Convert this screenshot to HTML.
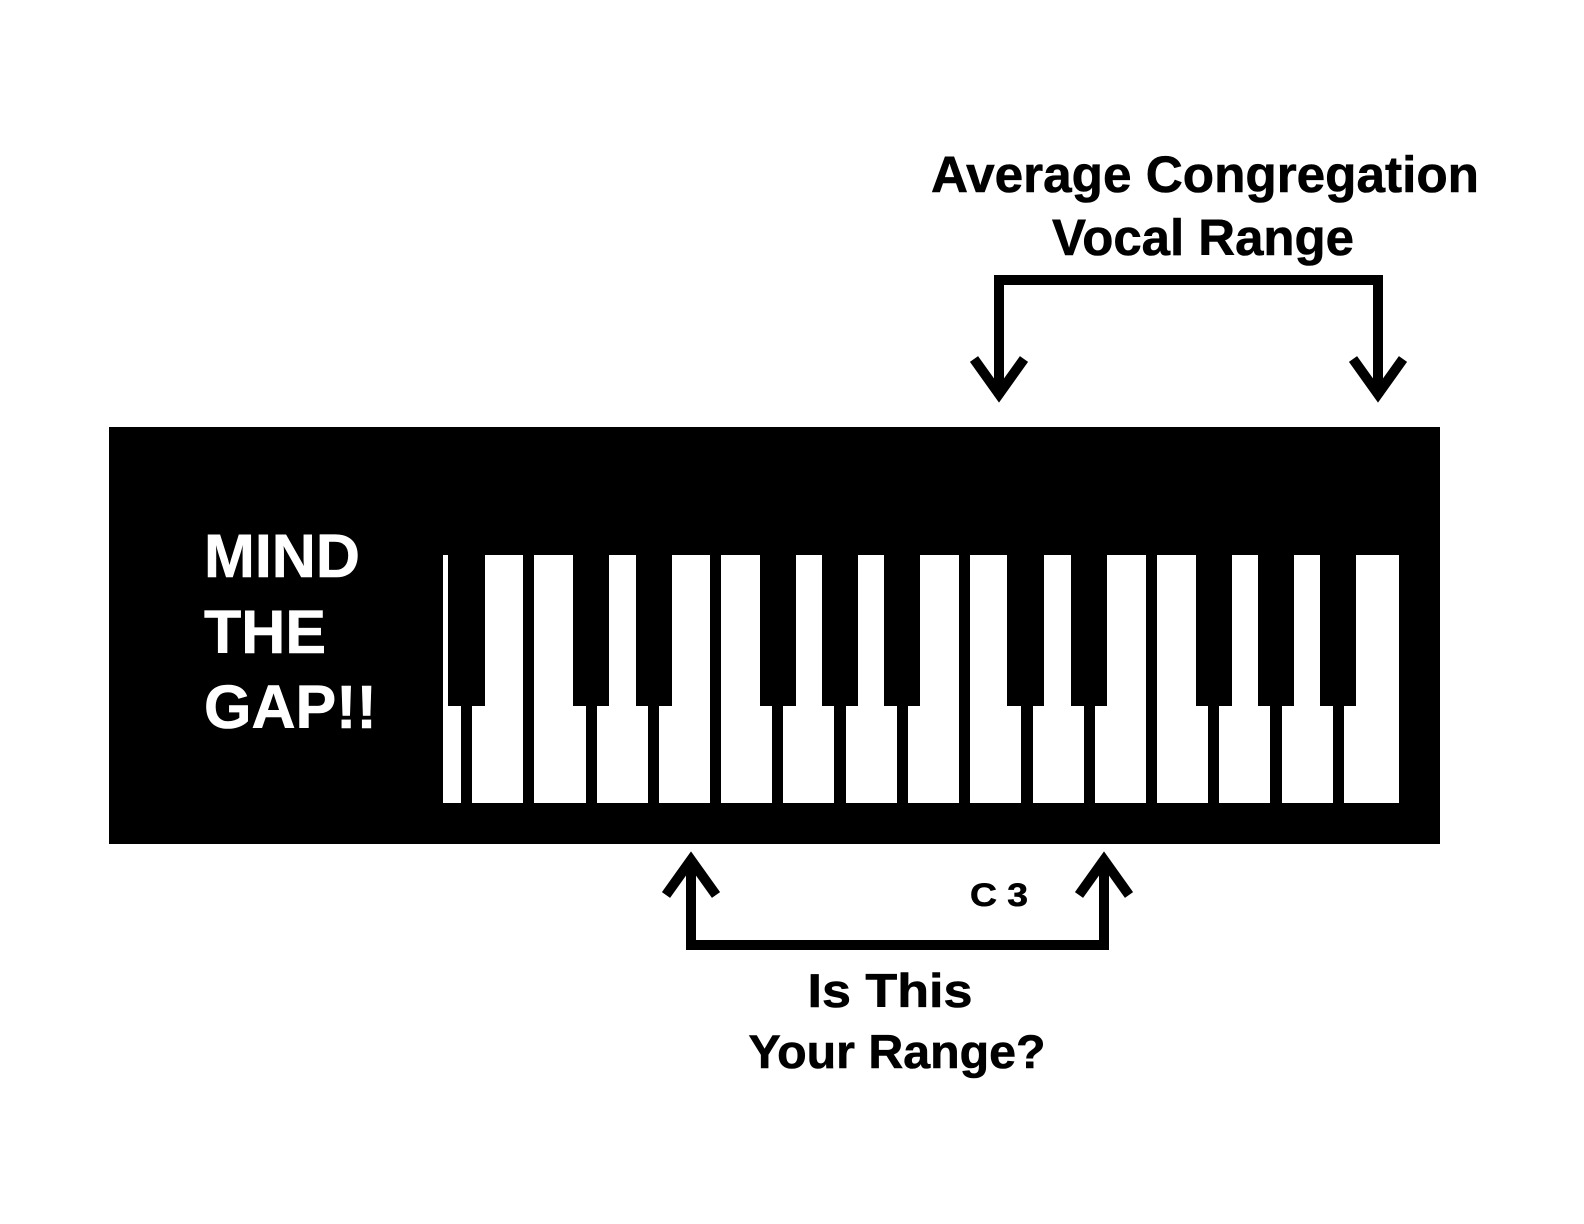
<!DOCTYPE html>
<html><head><meta charset="utf-8"><style>html,body{margin:0;padding:0;background:#fff}svg{display:block}</style></head>
<body>
<svg width="1584" height="1224" viewBox="0 0 1584 1224" xmlns="http://www.w3.org/2000/svg" font-family="Liberation Sans, Arial, sans-serif" font-weight="bold">
<rect x="0" y="0" width="1584" height="1224" fill="#fff"/>
<rect x="109" y="427" width="1331" height="417" fill="#000"/>
<g fill="#fff">
<rect x="443" y="555" width="18" height="248"/>
<rect x="472" y="555" width="51" height="248"/>
<rect x="534" y="555" width="52" height="248"/>
<rect x="597" y="555" width="51" height="248"/>
<rect x="659" y="555" width="51" height="248"/>
<rect x="721" y="555" width="51" height="248"/>
<rect x="783" y="555" width="51" height="248"/>
<rect x="846" y="555" width="51" height="248"/>
<rect x="908" y="555" width="51" height="248"/>
<rect x="970" y="555" width="51" height="248"/>
<rect x="1033" y="555" width="51" height="248"/>
<rect x="1095" y="555" width="51" height="248"/>
<rect x="1157" y="555" width="51" height="248"/>
<rect x="1219" y="555" width="51" height="248"/>
<rect x="1282" y="555" width="51" height="248"/>
<rect x="1344" y="555" width="55" height="248"/>
</g>
<g fill="#000">
<rect x="448" y="555" width="37" height="151"/>
<rect x="573" y="555" width="36" height="151"/>
<rect x="636" y="555" width="36" height="151"/>
<rect x="760" y="555" width="36" height="151"/>
<rect x="822" y="555" width="36" height="151"/>
<rect x="884" y="555" width="36" height="151"/>
<rect x="1007" y="555" width="37" height="151"/>
<rect x="1071" y="555" width="36" height="151"/>
<rect x="1196" y="555" width="36" height="151"/>
<rect x="1258" y="555" width="36" height="151"/>
<rect x="1320" y="555" width="36" height="151"/>
</g>
<g fill="#fff" stroke="#fff" stroke-width="0.6" font-size="61">
<text x="204" y="577">MIND</text>
<text x="204" y="653">THE</text>
<text x="204" y="728">GAP!!</text>
</g>
<g fill="#000" stroke="#000" stroke-width="0.6" text-anchor="middle">
<text x="1205" y="192" font-size="51" textLength="548" lengthAdjust="spacingAndGlyphs">Average Congregation</text>
<text x="1203" y="255" font-size="51" textLength="302" lengthAdjust="spacingAndGlyphs">Vocal Range</text>
<text x="999" y="906" font-size="32" textLength="58" lengthAdjust="spacingAndGlyphs">C 3</text>
<text x="890" y="1007" font-size="47" textLength="165" lengthAdjust="spacingAndGlyphs">Is This</text>
<text x="897" y="1068" font-size="47" textLength="297" lengthAdjust="spacingAndGlyphs">Your Range?</text>
</g>
<g fill="none" stroke="#000" stroke-width="10">
<polyline points="999,396 999,280 1378,280 1378,396"/>
<polyline points="974,359 999,394 1024,359"/>
<polyline points="1353,359 1378,394 1403,359"/>
<polyline points="691,860 691,945 1104,945 1104,860"/>
<polyline points="666,895 691,860 716,895"/>
<polyline points="1079,895 1104,860 1129,895"/>
</g>
</svg>
</body></html>
